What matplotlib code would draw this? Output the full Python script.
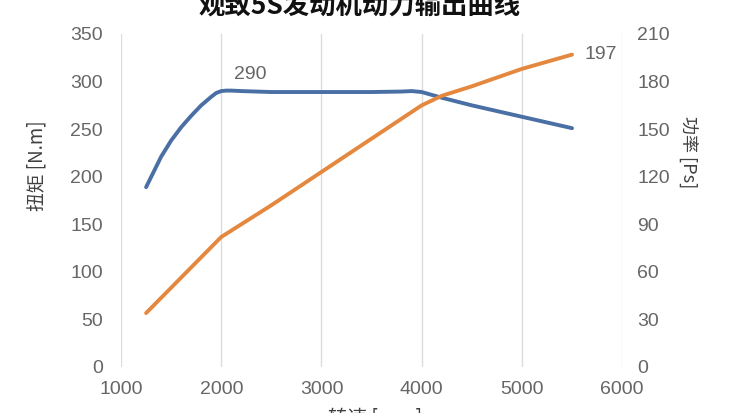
import matplotlib
matplotlib.use('Agg')
import matplotlib.pyplot as plt

plt.rcParams['font.family'] = ['Noto Sans CJK SC', 'DejaVu Sans']

# engine speed [rpm] and torque [N.m]
torque_rpm = [1250, 1400, 1500, 1600, 1700, 1800, 1900, 1950, 2000, 2050, 2100, 2200,
              2500, 3000, 3500, 3800, 3900, 4000, 4200, 4500, 5000, 5500]
torque_nm = [189, 221, 238, 252, 264, 275, 284, 288, 290, 290.5, 290.5, 290,
             289, 289, 289, 289.5, 290, 289, 283, 275, 263, 251]

# engine speed [rpm] and power [Ps]
power_rpm = [1250, 1500, 1750, 2000, 2500, 3000, 3500, 4000, 4200, 4500, 5000, 5500]
power_ps = [34, 50, 66, 82, 102, 123, 144, 165, 171, 177, 188, 197]

# values written on the chart
peak_torque = 290
peak_power = 197

x_ticks = [1000, 2000, 3000, 4000, 5000, 6000]
left_ticks = [0, 50, 100, 150, 200, 250, 300, 350]
right_ticks = [0, 30, 60, 90, 120, 150, 180, 210]

blue = '#4a6fa5'
orange = '#e5883f'
tick_color = '#666666'
num_font = ['Liberation Sans', 'DejaVu Sans']

fig = plt.figure(figsize=(7.38, 4.13), dpi=100)
ax = fig.add_axes([0.164, 0.1114, 0.679, 0.8063])
ax2 = ax.twinx()

ax.plot(torque_rpm, torque_nm, color=blue, linewidth=2.8, solid_capstyle='round',
        solid_joinstyle='round', zorder=3)
ax2.plot(power_rpm, power_ps, color=orange, linewidth=2.8, solid_capstyle='round',
         solid_joinstyle='round', zorder=3)

ax.set_xlim(1000, 6000)
ax.set_ylim(0, 350)
ax2.set_ylim(0, 210)
ax.set_xticks(x_ticks)
ax.set_yticks(left_ticks)
ax2.set_yticks(right_ticks)

# only vertical light grid, no spines
ax.grid(True, axis='x', color='#dcdcdc', linewidth=1)
ax.set_axisbelow(True)
for a in (ax, ax2):
    for s in a.spines.values():
        s.set_visible(False)

ax.tick_params(axis='x', length=0, pad=10)
ax.tick_params(axis='y', length=0, pad=13)
ax2.tick_params(axis='y', length=0, pad=11)
for lbl in ax.get_xticklabels() + ax.get_yticklabels() + ax2.get_yticklabels():
    lbl.set_family(num_font)
    lbl.set_fontsize(14)
    lbl.set_color(tick_color)

# value labels
ax.text(2287, 307, str(peak_torque), ha='center', va='center', fontsize=14,
        color=tick_color, family=num_font)
ax2.annotate(str(peak_power), xy=(power_rpm[-1], power_ps[-1]), xytext=(21, 0),
             textcoords='offset points', ha='center', va='center',
             fontsize=14, color=tick_color, family=num_font, annotation_clip=False)

# axis titles (placed as figure text, partly cut off like the original)
fig.text(37 / 738, 1 - 166 / 413, '扭矩 [N.m]', rotation=90, ha='center', va='center',
         fontsize=13.5, color='#404040')
fig.text(688 / 738, 1 - 152 / 413, '功率 [Ps]', rotation=-90, ha='center', va='center',
         fontsize=13, color='#404040')
fig.text(375 / 738, -5 / 413, '转速 [rpm]', ha='center', va='center',
         fontsize=14, color='#404040')
fig.text(360 / 738, 1 - 7 / 413, '观致5S发动机动力输出曲线', ha='center', va='center',
         fontsize=19, fontweight='bold', color='#111111')

fig.savefig('out.png', dpi=100)
